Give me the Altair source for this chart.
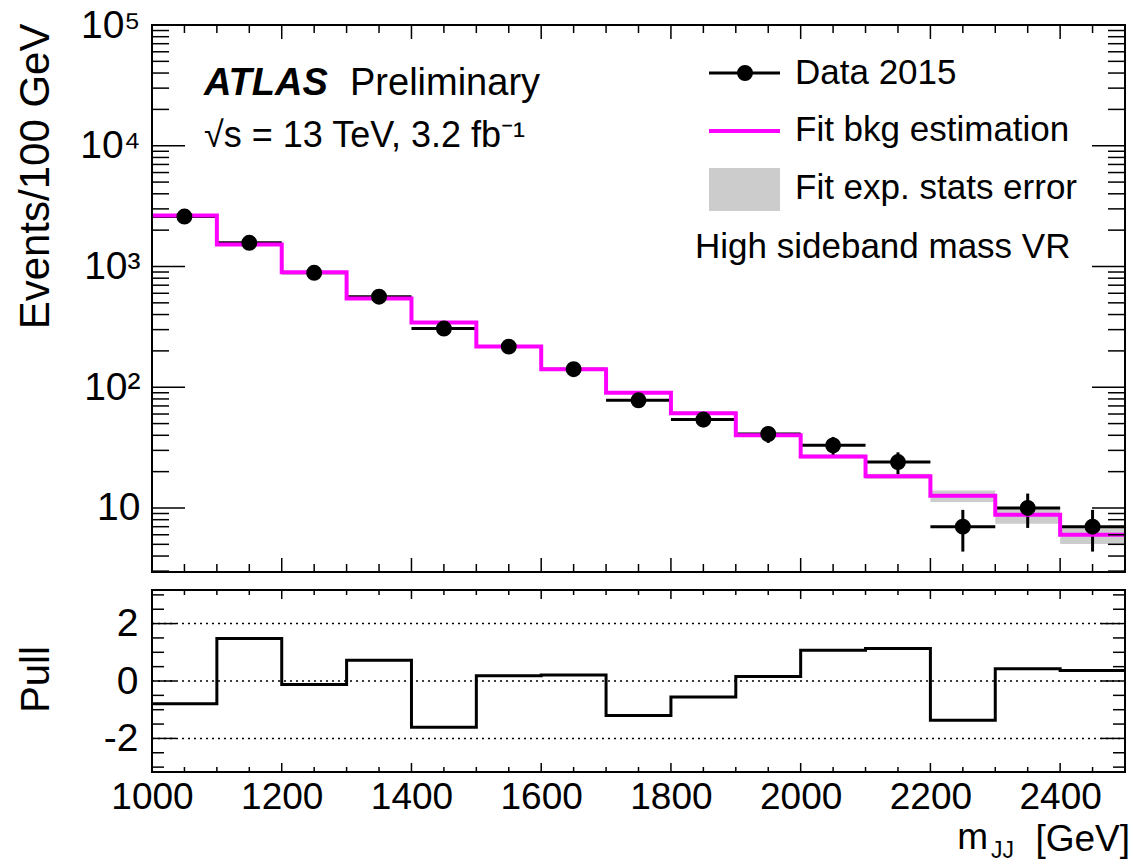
import math

import altair as alt
import pandas as pd

# ---- binned spectrum (m_JJ in GeV) ----
BIN_LO = [1000, 1100, 1200, 1300, 1400, 1500, 1600, 1700, 1800, 1900, 2000, 2100, 2200, 2300, 2400]
BIN_HI = [1100, 1200, 1300, 1400, 1500, 1600, 1700, 1800, 1900, 2000, 2100, 2200, 2300, 2400, 2500]
DATA_EVENTS = [2590, 1570, 887, 562, 306, 217, 141, 78, 54, 41, 33, 24, 7, 10, 7]
FIT_BKG = [2640, 1520, 897, 544, 343, 217, 141, 90, 61, 40, 26.7, 18.3, 12.6, 8.8, 6.0]
FIT_REL_ERR = [0.01, 0.01, 0.01, 0.015, 0.015, 0.02, 0.02, 0.025, 0.03, 0.03, 0.04, 0.05, 0.11, 0.16, 0.16]
PULL = [-0.79, 1.48, -0.12, 0.72, -1.61, 0.18, 0.21, -1.20, -0.56, 0.16, 1.07, 1.13, -1.37, 0.43, 0.37]

# ---- axis labels ----
X_LABEL_VALUES = [1000, 1200, 1400, 1600, 1800, 2000, 2200, 2400]
Y_LABEL_VALUES = [10, 100, 1000, 10000, 100000]
Y_LABEL_TEXT = ["10", "10²", "10³", "10⁴", "10⁵"]
PULL_LABEL_VALUES = [-2, 0, 2]
PULL_LABEL_TEXT = ["-2", "0", "2"]
PULL_GUIDES = [-2, 0, 2]

# ---- inward frame ticks ----
X_MAJOR_TICKS = [1200, 1400, 1600, 1800, 2000, 2200, 2400]
X_MINOR_TICKS = [x for x in range(1050, 2500, 50) if x not in X_MAJOR_TICKS]
LOG_MAJOR_TICKS = [10, 100, 1000, 10000]
LOG_MINOR_TICKS = [m * 10 ** k for k in range(0, 5) for m in range(2, 10) if m * 10 ** k >= 3]
PULL_MAJOR_TICKS = [-2, 0, 2]
PULL_MINOR_TICKS = [-3, -2.5, -1.5, -1, -0.5, 0.5, 1, 1.5, 2.5, 3]

# ---- layout (pixels) ----
W = 973
H_TOP = 547
GAP = 18
H_PULL = 182
PULL_TOP = H_TOP + GAP
H = PULL_TOP + H_PULL
FONT = "Liberation Sans"
MAGENTA = "#ff00ff"
BAND_GREY = "#cccccc"

bins = pd.DataFrame({
    "lo": BIN_LO, "hi": BIN_HI, "n": DATA_EVENTS,
    "bkg": FIT_BKG, "rel": FIT_REL_ERR, "pull": PULL,
})
bins["mid"] = (bins["lo"] + bins["hi"]) / 2
bins["n_lo"] = bins["n"] - bins["n"].apply(math.sqrt)
bins["n_hi"] = bins["n"] + bins["n"].apply(math.sqrt)
bins["band_lo"] = bins["bkg"] * (1 - bins["rel"])
bins["band_hi"] = bins["bkg"] * (1 + bins["rel"])

steps = pd.DataFrame({
    "edge": BIN_LO + [BIN_HI[-1]],
    "bkg": FIT_BKG + [FIT_BKG[-1]],
    "pull": PULL + [PULL[-1]],
})

ONE = pd.DataFrame({"k": [0]})

x_scale = alt.Scale(domain=[1000, 2500], nice=False, zero=False)
top_scale = alt.Scale(type="log", domain=[2.95, 1e5], range=[H_TOP, 0], nice=False)
pull_scale = alt.Scale(domain=[-3.17, 3.17], range=[H, PULL_TOP], nice=False, zero=False)


def chain_expr(values, texts):
    expr = "''"
    for v, t in reversed(list(zip(values, texts))):
        expr = f"datum.value == {v} ? '{t}' : ({expr})"
    return expr


# one shared bottom axis (labels only; ticks are drawn inside the frames)
x_axis = alt.Axis(
    orient="bottom", values=X_LABEL_VALUES, format="d", ticks=False, tickSize=0, domain=False,
    grid=False, labelFontSize=37, labelPadding=7, labelFlush=False, labelOverlap=False,
    labelBaseline="top", title=None,
)

top_axis = alt.Axis(
    orient="left", values=Y_LABEL_VALUES, labelExpr=chain_expr(Y_LABEL_VALUES, Y_LABEL_TEXT),
    ticks=False, tickSize=0, domain=False, grid=False, labelAlign="right",
    labelPadding=12, labelFontSize=39, labelOverlap=False, labelBaseline="middle",
    title="Events/100 GeV", titleFontSize=42, titleFontWeight="normal", titleAngle=-90,
    titleX=-104, titleY=-2, titleAlign="right", titleBaseline="alphabetic",
)

pull_axis = alt.Axis(
    orient="left", values=PULL_LABEL_VALUES, labelExpr=chain_expr(PULL_LABEL_VALUES, PULL_LABEL_TEXT),
    ticks=False, tickSize=0, domain=False, grid=False, labelAlign="right", labelPadding=14,
    labelFontSize=39, labelOverlap=False, labelBaseline="middle",
    title="Pull", titleFontSize=40, titleFontWeight="normal", titleAngle=-90,
    titleX=-104, titleY=(PULL_TOP + H) / 2 - 2, titleAlign="center", titleBaseline="alphabetic",
)


def xq(field):
    return alt.X(f"{field}:Q", scale=x_scale, axis=x_axis)


def ytop(field, axis=None):
    return alt.Y(f"{field}:Q", scale=top_scale, axis=axis)


def ypull(field, axis=None):
    return alt.Y(f"{field}:Q", scale=pull_scale, axis=axis)


def text_layer(txt, x, y, size, align="left", baseline="alphabetic", **kw):
    return alt.Chart(ONE).mark_text(
        text=txt, align=align, baseline=baseline, fontSize=size, font=FONT, color="black", **kw
    ).encode(x=alt.value(x), y=alt.value(y))


def xtick_layer(vals, y0, y1):
    return alt.Chart(pd.DataFrame({"t": vals})).mark_rule(color="black", strokeWidth=1.5).encode(
        x=xq("t"), y=alt.value(y0), y2=alt.value(y1)
    )


def ytick_layer(vals, yfn, x0, x1):
    return alt.Chart(pd.DataFrame({"t": vals})).mark_rule(color="black", strokeWidth=1.5).encode(
        y=yfn("t"), x=alt.value(x0), x2=alt.value(x1)
    )


def frame_layer(y0, y1):
    return alt.Chart(ONE).mark_rect(fillOpacity=0, stroke="black", strokeWidth=2).encode(
        x=alt.value(0), x2=alt.value(W), y=alt.value(y0), y2=alt.value(y1)
    )


# ---- upper panel: spectrum ----
band = alt.Chart(bins).mark_rect(color=BAND_GREY).encode(
    x=xq("lo"), x2="hi", y=ytop("band_lo"), y2="band_hi"
)
data_xerr = alt.Chart(bins).mark_rule(color="black", strokeWidth=3).encode(
    x=xq("lo"), x2="hi", y=ytop("n")
)
data_yerr = alt.Chart(bins).mark_rule(color="black", strokeWidth=3).encode(
    x=xq("mid"), y=ytop("n_lo"), y2="n_hi"
)
bkg_line = alt.Chart(steps).mark_line(color=MAGENTA, strokeWidth=4, interpolate="step-after").encode(
    x=xq("edge"), y=ytop("bkg")
)
data_pts = alt.Chart(bins).mark_circle(color="black", size=254, opacity=1).encode(
    x=xq("mid"), y=ytop("n", top_axis)
)

# ---- lower panel: pull ----
pull_guides = alt.Chart(pd.DataFrame({"g": PULL_GUIDES})).mark_rule(
    color="black", strokeWidth=1.5, strokeDash=[2, 4]
).encode(y=ypull("g"), x=alt.value(0), x2=alt.value(W))
pull_line = alt.Chart(steps).mark_line(color="black", strokeWidth=3, interpolate="step-after").encode(
    x=xq("edge"), y=ypull("pull", pull_axis)
)

# ---- legend ----
legend = [
    alt.Chart(ONE).mark_rule(color="black", strokeWidth=3).encode(
        x=alt.value(557), x2=alt.value(628), y=alt.value(48)),
    alt.Chart(ONE).mark_circle(color="black", size=254, opacity=1).encode(
        x=alt.value(593), y=alt.value(48)),
    text_layer("Data 2015", 643, 48, 35, baseline="middle"),
    alt.Chart(ONE).mark_rule(color=MAGENTA, strokeWidth=4).encode(
        x=alt.value(557), x2=alt.value(628), y=alt.value(106)),
    text_layer("Fit bkg estimation", 643, 105, 35, baseline="middle"),
    alt.Chart(ONE).mark_rect(color=BAND_GREY).encode(
        x=alt.value(557), x2=alt.value(628), y=alt.value(143), y2=alt.value(186)),
    text_layer("Fit exp. stats error", 643, 163, 35, baseline="middle"),
    text_layer("High sideband mass VR", 543, 222, 35, baseline="middle"),
]

labels = [
    text_layer("ATLAS", 52, 70, 38, fontStyle="italic", fontWeight="bold"),
    text_layer("Preliminary", 198, 70, 38),
    text_layer("√s = 13 TeV, 3.2 fb⁻¹", 52, 122, 36),
    text_layer("[GeV]", W + 5, 826, 37, align="right"),
    text_layer("JJ", 862, 833, 23, align="right"),
    text_layer("m", 836, 824, 37, align="right"),
]

ticks = [
    # upper panel
    xtick_layer(X_MAJOR_TICKS, H_TOP, H_TOP - 14),
    xtick_layer(X_MINOR_TICKS, H_TOP, H_TOP - 8),
    xtick_layer(X_MAJOR_TICKS, 0, 14),
    xtick_layer(X_MINOR_TICKS, 0, 8),
    ytick_layer(LOG_MAJOR_TICKS, ytop, 0, 33),
    ytick_layer(LOG_MINOR_TICKS, ytop, 0, 17),
    ytick_layer(LOG_MAJOR_TICKS, ytop, W - 33, W),
    ytick_layer(LOG_MINOR_TICKS, ytop, W - 17, W),
    # pull panel
    xtick_layer(X_MAJOR_TICKS, H, H - 9),
    xtick_layer(X_MINOR_TICKS, H, H - 5),
    xtick_layer(X_MAJOR_TICKS, PULL_TOP, PULL_TOP + 9),
    xtick_layer(X_MINOR_TICKS, PULL_TOP, PULL_TOP + 5),
    ytick_layer(PULL_MAJOR_TICKS, ypull, 0, 24),
    ytick_layer(PULL_MINOR_TICKS, ypull, 0, 12),
    ytick_layer(PULL_MAJOR_TICKS, ypull, W - 24, W),
    ytick_layer(PULL_MINOR_TICKS, ypull, W - 12, W),
]

chart = (
    alt.layer(
        band, data_xerr, data_yerr, bkg_line, data_pts,
        pull_guides, pull_line,
        *ticks,
        frame_layer(0, H_TOP), frame_layer(PULL_TOP, H),
        *legend, *labels,
    )
    .resolve_scale(y="independent")
    .properties(
        width=W, height=H,
        padding={"left": 152, "top": 25, "right": 13, "bottom": 90},
        autosize=alt.AutoSizeParams(type="none"),
        background="white",
    )
    .configure(font=FONT)
    .configure_view(stroke=None)
    .configure_axis(labelColor="black", titleColor="black", labelFont=FONT, titleFont=FONT)
)

chart.save("out.html", embed_options={"renderer": "svg", "actions": False})
